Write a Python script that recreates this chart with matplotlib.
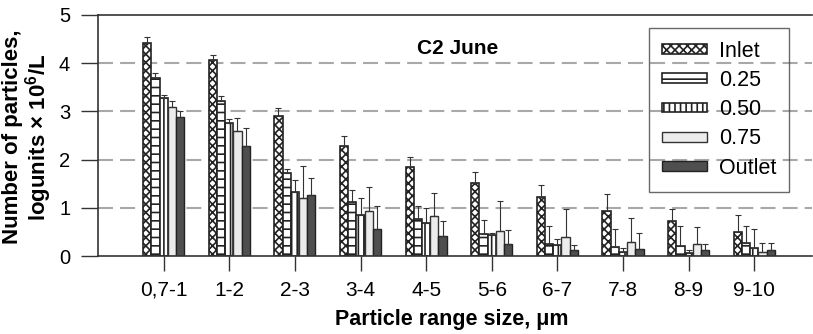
import matplotlib
matplotlib.use("Agg")
import matplotlib.pyplot as plt
import numpy as np

categories = ["0,7-1", "1-2", "2-3", "3-4", "4-5", "5-6", "6-7", "7-8", "8-9", "9-10"]
series_names = ["Inlet", "0.25", "0.50", "0.75", "Outlet"]

inlet  = [4.41, 4.07, 2.91, 2.29, 1.84, 1.51, 1.22, 0.93, 0.72, 0.50]
s025   = [3.69, 3.22, 1.73, 1.11, 0.76, 0.46, 0.24, 0.19, 0.20, 0.26]
s050   = [3.27, 2.75, 1.32, 0.86, 0.69, 0.43, 0.22, 0.08, 0.07, 0.17]
s075   = [3.10, 2.59, 1.20, 0.94, 0.84, 0.51, 0.39, 0.30, 0.24, 0.09]
outlet = [2.88, 2.28, 1.27, 0.55, 0.42, 0.24, 0.12, 0.15, 0.12, 0.12]

# upper error bar extents (top of whisker)
inlet_top  = [4.54, 4.18, 3.08, 2.50, 2.06, 1.74, 1.47, 1.28, 0.98, 0.86]
s025_top   = [3.80, 3.31, 1.80, 1.36, 1.04, 0.75, 0.62, 0.57, 0.62, 0.63]
s050_top   = [3.35, 2.85, 1.58, 1.21, 0.99, 0.48, 0.36, 0.16, 0.12, 0.55]
s075_top   = [3.22, 2.87, 1.87, 1.44, 1.31, 1.15, 0.97, 0.79, 0.60, 0.28]
outlet_top = [3.01, 2.66, 1.62, 1.04, 0.73, 0.53, 0.22, 0.47, 0.25, 0.28]

yticks = [0, 1, 2, 3, 4, 5]

values = [inlet, s025, s050, s075, outlet]
tops = [inlet_top, s025_top, s050_top, s075_top, outlet_top]

plt.rcParams['font.family'] = ['Liberation Sans', 'DejaVu Sans']
plt.rcParams['mathtext.fontset'] = 'custom'
plt.rcParams['mathtext.rm'] = 'Liberation Sans'
plt.rcParams['mathtext.bf'] = 'Liberation Sans:bold'
plt.rcParams['hatch.linewidth'] = 1.2

fig = plt.figure(figsize=(8.13, 3.34), dpi=100)
ax = fig.add_axes([98/813, 1-256/334, 714/813, 241/334])

styles = [
    dict(facecolor='white', hatch='xxxx', edgecolor='#222222', linewidth=1.2),
    dict(facecolor='white', hatch='--', edgecolor='#222222', linewidth=1.2),
    dict(facecolor='white', hatch='|||', edgecolor='#222222', linewidth=1.2),
    dict(facecolor='#ececec', hatch=None, edgecolor='#333333', linewidth=1.0),
    dict(facecolor='#4f4f4f', hatch=None, edgecolor='#222222', linewidth=1.0),
]

x = np.arange(len(categories))
w = 0.125
for i, (name, vals, tp, st) in enumerate(zip(series_names, values, tops, styles)):
    pos = x + (i - 2) * w
    ax.bar(pos, vals, width=w, label=name, zorder=2, **st)
    err = np.array(tp) - np.array(vals)
    ax.errorbar(pos, vals, yerr=[np.zeros_like(err), err], fmt='none',
                ecolor='#333333', elinewidth=0.8, capsize=2, capthick=0.8, zorder=3)

ax.set_xlim(-1, 9.88)
ax.set_ylim(0, 5)
ax.set_yticks(yticks)
ax.set_xticks(x)
ax.set_xticklabels(categories)
ax.tick_params(axis='x', direction='out', length=11, width=1, pad=7, labelsize=15, color='#333333')
ax.tick_params(axis='y', direction='out', length=12, width=1, pad=8, labelsize=14.5, color='#333333')

for sp in ['left', 'bottom', 'top']:
    ax.spines[sp].set_color('#333333')
    ax.spines[sp].set_linewidth(1.2)
ax.spines['right'].set_visible(False)

ax.set_axisbelow(True)
for yv in yticks[1:-1]:
    ax.axhline(yv, color='#a8a8a8', lw=1.5, linestyle=(0, (7.2, 3.4)), zorder=0)

ax.text(0.503, 0.86, "C2 June", transform=ax.transAxes, ha='center', va='center',
        fontsize=15, fontweight='bold')

leg = ax.legend(loc='upper right', bbox_to_anchor=(789/813, 1-28/334),
                bbox_transform=fig.transFigure, borderaxespad=0,
                fontsize=15.5, handlelength=2.1, handleheight=0.33,
                handletextpad=0.55, labelspacing=0.38, borderpad=0.6,
                fancybox=False, frameon=True)
leg.get_frame().set_facecolor('none')
leg.get_frame().set_edgecolor('#444444')
leg.get_frame().set_linewidth(1.0)

fig.text(28/813, 1-137/334, "Number of particles,\nlogunits \u00d7 10$^{\\mathbf{6}}$/L", rotation=90,
         ha='center', va='center', multialignment='center', fontsize=16, fontweight='bold',
         linespacing=1.0)
fig.text(452/813, 1-320/334, "Particle range size, \u03bcm", ha='center', va='center',
         fontsize=15.5, fontweight='bold')

fig.savefig("out.png", dpi=100)
